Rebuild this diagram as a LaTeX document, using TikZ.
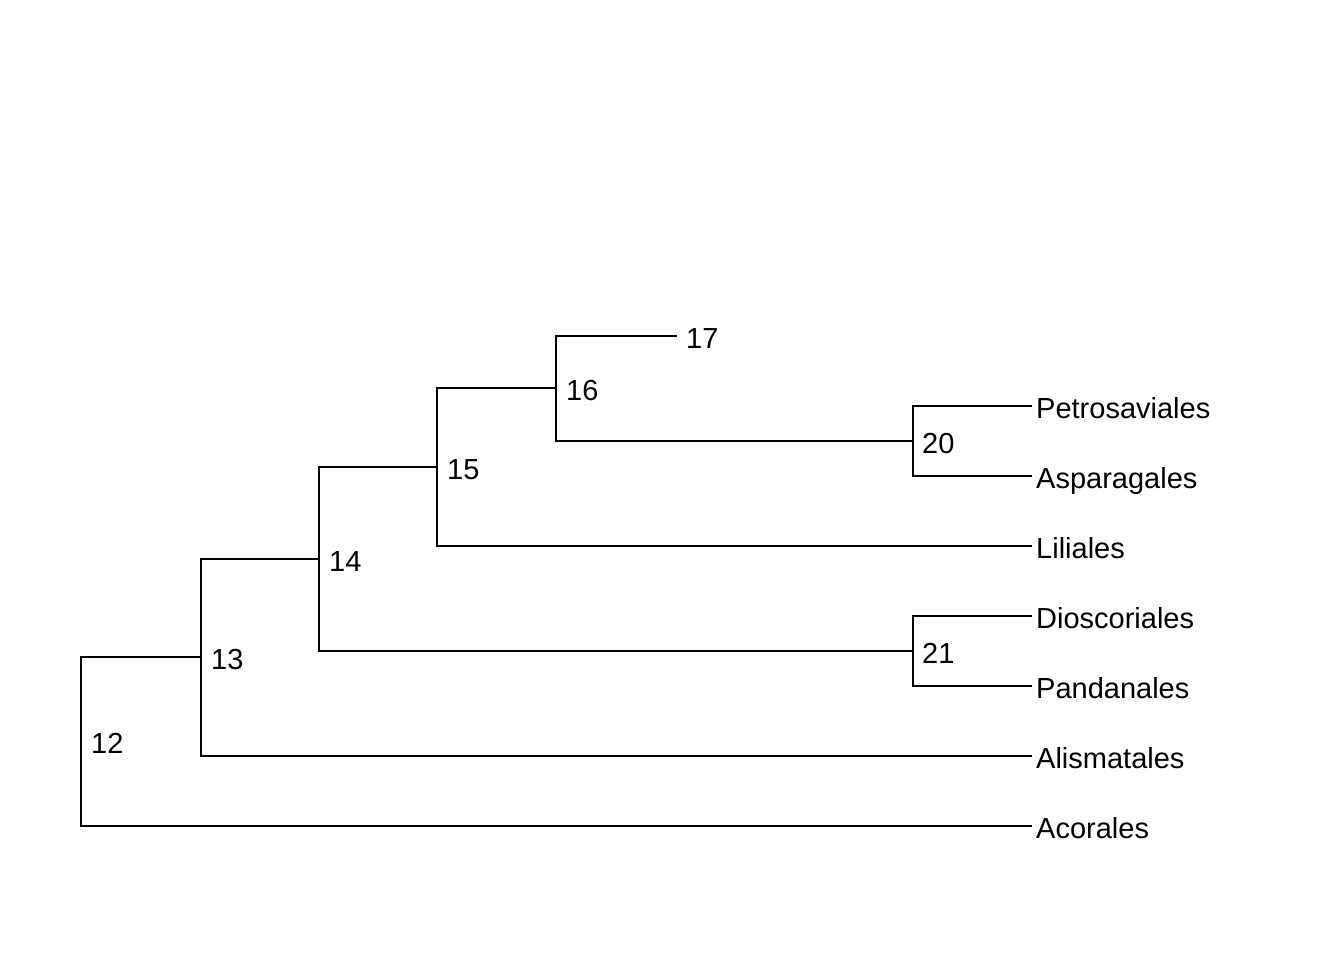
\documentclass[tikz,border=0pt]{standalone}
\usepackage{fontspec}
\setmainfont{Liberation Sans}
\begin{document}
\begin{tikzpicture}[x=1pt,y=-1pt,
  edge/.style={line width=1.9pt,line cap=rect},
  lbl/.style={anchor=base west,inner sep=0pt,font=\fontsize{29}{32}\selectfont}]
\useasboundingbox (0,0) rectangle (1344,960);
\coordinate (n12) at (81,741.5);
\coordinate (n13) at (201,657);
\coordinate (n14) at (319,559);
\coordinate (n15) at (437,467);
\coordinate (n16) at (556,388);
\coordinate (n17) at (676,336);
\coordinate (n20) at (913,441);
\coordinate (n21) at (913,651);
\coordinate (petro) at (1031,406);
\coordinate (aspar) at (1031,476);
\coordinate (lili) at (1031,546);
\coordinate (dios) at (1031,616);
\coordinate (pand) at (1031,686);
\coordinate (alis) at (1031,756);
\coordinate (acor) at (1031,826);
% edges
\draw[edge] (n12) |- (n13);
\draw[edge] (n12) |- (acor);
\draw[edge] (n13) |- (n14);
\draw[edge] (n13) |- (alis);
\draw[edge] (n14) |- (n15);
\draw[edge] (n14) |- (n21);
\draw[edge] (n15) |- (n16);
\draw[edge] (n15) |- (lili);
\draw[edge] (n16) |- (n17);
\draw[edge] (n16) |- (n20);
\draw[edge] (n20) |- (petro);
\draw[edge] (n20) |- (aspar);
\draw[edge] (n21) |- (dios);
\draw[edge] (n21) |- (pand);
% labels
\node[lbl] (l12) at ([shift={(10,12)}]n12) {12};
\node[lbl] (l13) at ([shift={(10,12)}]n13) {13};
\node[lbl] (l14) at ([shift={(10,12)}]n14) {14};
\node[lbl] (l15) at ([shift={(10,12)}]n15) {15};
\node[lbl] (l16) at ([shift={(10,12)}]n16) {16};
\node[lbl] (l17) at ([shift={(10,12)}]n17) {17};
\node[lbl] (l20) at ([shift={(9,12)}]n20) {20};
\node[lbl] (l21) at ([shift={(9,12)}]n21) {21};
\node[lbl] (tpetro) at ([shift={(5,12)}]petro) {Petrosaviales};
\node[lbl] (taspar) at ([shift={(5,12)}]aspar) {Asparagales};
\node[lbl] (tlili) at ([shift={(5,12)}]lili) {Liliales};
\node[lbl] (tdios) at ([shift={(5,12)}]dios) {Dioscoriales};
\node[lbl] (tpand) at ([shift={(5,12)}]pand) {Pandanales};
\node[lbl] (talis) at ([shift={(5,12)}]alis) {Alismatales};
\node[lbl] (tacor) at ([shift={(5,12)}]acor) {Acorales};
\end{tikzpicture}
\end{document}
